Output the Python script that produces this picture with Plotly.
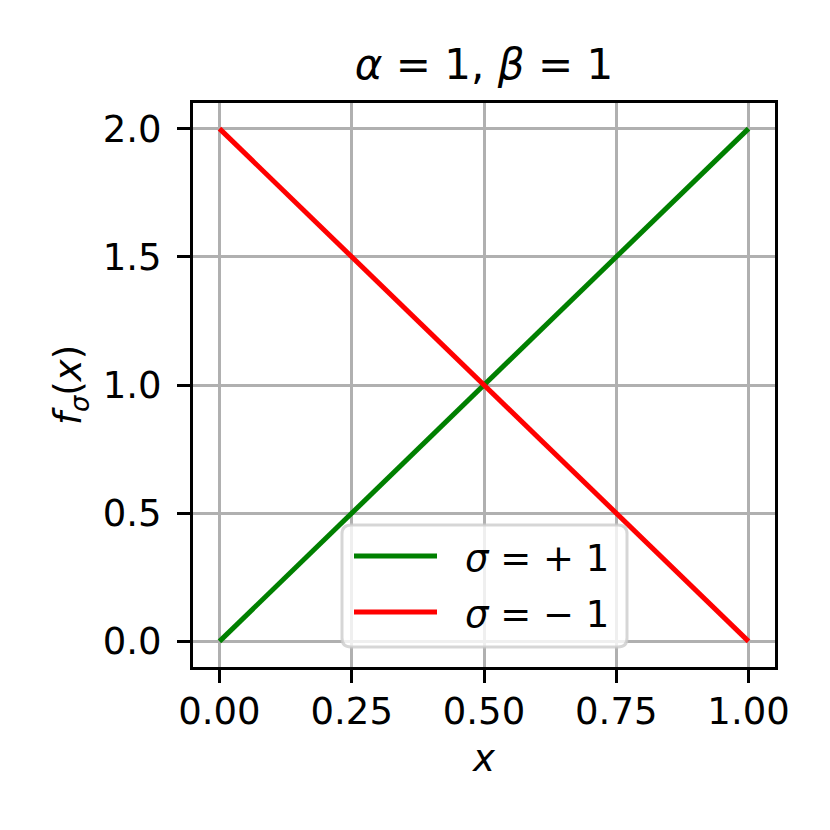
import plotly.graph_objects as go

# data
x_vals = [0.0, 1.0]
f_plus = [0.0, 2.0]
f_minus = [2.0, 0.0]

series_names = ["<i>σ</i> = + 1", "<i>σ</i> = − 1"]
series_colors = ["#008000", "#ff0000"]

x_ticks = [0.0, 0.25, 0.5, 0.75, 1.0]
x_tick_labels = ["0.00", "0.25", "0.50", "0.75", "1.00"]
y_ticks = [0.0, 0.5, 1.0, 1.5, 2.0]
y_tick_labels = ["0.0", "0.5", "1.0", "1.5", "2.0"]

FONT = "DejaVu Sans"

# plot area in screen pixels (page has an 8px body margin)
PLOT_L, PLOT_R, PLOT_T, PLOT_B = 193, 775, 103, 667


def px(sx):
    return (sx - PLOT_L) / (PLOT_R - PLOT_L)


def py(sy):
    return (PLOT_B - sy) / (PLOT_B - PLOT_T)


fig = go.Figure()

for ys, name, color in zip([f_plus, f_minus], series_names, series_colors):
    fig.add_trace(
        go.Scatter(
            x=x_vals,
            y=ys,
            mode="lines",
            name=name,
            line=dict(color=color, width=5),
            showlegend=False,
        )
    )

# matplotlib-style legend box (rounded, semi-transparent)
bx0, bx1, by0, by1 = px(342), px(627), py(647), py(525)
rx, ry = 9 / (PLOT_R - PLOT_L), 9 / (PLOT_B - PLOT_T)
fig.add_shape(
    type="path",
    xref="paper",
    yref="paper",
    path=(
        f"M{bx0 + rx},{by0} L{bx1 - rx},{by0} Q{bx1},{by0} {bx1},{by0 + ry} "
        f"L{bx1},{by1 - ry} Q{bx1},{by1} {bx1 - rx},{by1} "
        f"L{bx0 + rx},{by1} Q{bx0},{by1} {bx0},{by1 - ry} "
        f"L{bx0},{by0 + ry} Q{bx0},{by0} {bx0 + rx},{by0} Z"
    ),
    fillcolor="rgba(255,255,255,0.8)",
    line=dict(color="rgba(204,204,204,0.8)", width=3),
    layer="above",
)

for name, color, sy in zip(series_names, series_colors, [556, 612]):
    fig.add_shape(
        type="line",
        xref="paper",
        yref="paper",
        x0=px(354),
        x1=px(437),
        y0=py(sy),
        y1=py(sy),
        line=dict(color=color, width=5),
        layer="above",
    )
    fig.add_annotation(
        xref="paper",
        yref="paper",
        x=px(463),
        y=py(sy + 2),
        xanchor="left",
        yanchor="middle",
        text=name,
        showarrow=False,
        font=dict(family=FONT, size=37, color="black"),
    )

axis_common = dict(
    showline=True,
    linecolor="black",
    linewidth=3,
    mirror=True,
    ticks="outside",
    ticklen=13,
    tickwidth=3,
    tickcolor="black",
    showgrid=True,
    gridcolor="#b0b0b0",
    gridwidth=3,
    zeroline=False,
    tickfont=dict(family=FONT, size=37, color="black"),
)

fig.update_layout(
    width=830,
    height=830,
    paper_bgcolor="white",
    plot_bgcolor="white",
    margin=dict(l=PLOT_L - 8, r=830 - PLOT_R + 8, t=PLOT_T - 8, b=830 - PLOT_B + 8),
    font=dict(family=FONT, color="black"),
    title=dict(
        text="<i>α</i> = 1, <i>β</i> = 1",
        x=(484 - 8) / 830,
        xanchor="center",
        y=1 - 56 / 830,
        yanchor="middle",
        font=dict(family=FONT, size=42, color="black"),
    ),
    xaxis=dict(
        axis_common,
        range=[-0.05, 1.05],
        tickvals=x_ticks,
        ticktext=x_tick_labels,
        ticklabelstandoff=-3,
        title=dict(text="<i>x</i>", font=dict(family=FONT, size=37), standoff=13),
    ),
    yaxis=dict(
        axis_common,
        range=[-0.1, 2.1],
        tickvals=y_ticks,
        ticktext=y_tick_labels,
        ticklabelstandoff=8,
        title=dict(
            text="<i>f</i><sub><i>σ</i></sub>(<i>x</i>)",
            font=dict(family=FONT, size=37),
            standoff=10,
        ),
    ),
)

fig.write_html("out.html")
